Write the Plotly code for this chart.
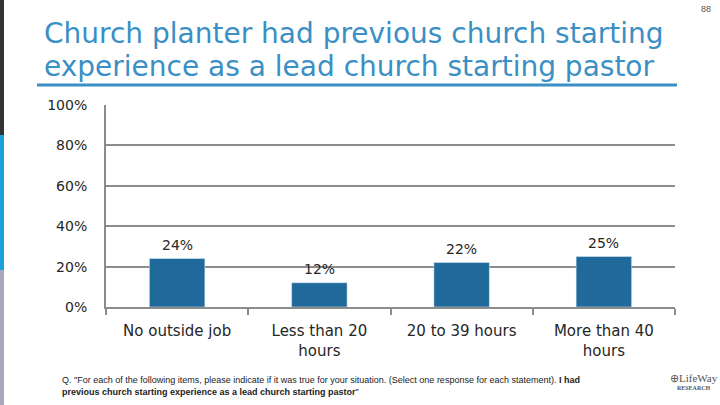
import plotly.graph_objects as go

categories = ["No outside job", "Less than 20<br>hours", "20 to 39 hours", "More than 40<br>hours"]
values = [24, 12, 22, 25]
value_labels = ["24%", "12%", "22%", "25%"]
y_ticks = [0, 20, 40, 60, 80, 100]

title_lines = ["Church planter had previous church starting",
               "experience as a lead church starting pastor"]
footnote = ('Q. "For each of the following items, please indicate if it was true for your situation. '
            '(Select one response for each statement). <b>I had</b><br><b>previous church starting '
            'experience as a lead church starting pastor</b>"')

BAR = "#1F6A9A"
TITLE = "#3A8FC4"
GRID = "#8C8C8C"
TXT = "#262626"
FONT = "DejaVu Sans"

W, H = 720, 405
L, R, T, B = 106, 45, 105, 98
PW, PH = W - L - R, H - T - B


def px(x):
    return (x - L) / PW


def py(y):
    return (H - B - y) / PH


fig = go.Figure()
fig.add_trace(go.Bar(
    x=categories, y=values, marker_color=BAR, width=0.39,
    hoverinfo="skip",
))

for c, v, t in zip(categories, values, value_labels):
    fig.add_annotation(x=c, y=v, text=t, showarrow=False, yanchor="bottom",
                       yshift=4, font=dict(family=FONT, size=14, color=TXT))

fig.update_layout(
    width=W, height=H,
    margin=dict(l=L, r=R, t=T, b=B),
    paper_bgcolor="white", plot_bgcolor="white",
    showlegend=False,
    font=dict(family=FONT, color=TXT),
)
fig.update_yaxes(
    range=[0, 100], tickvals=y_ticks, ticktext=[f"{v}%" for v in y_ticks],
    showgrid=True, gridcolor=GRID, gridwidth=2,
    showline=True, linecolor=GRID, linewidth=2,
    ticks="", tickfont=dict(family=FONT, size=14, color=TXT),
    ticklabelstandoff=14, zeroline=False, fixedrange=True, automargin=False,
)
fig.update_xaxes(
    showline=True, linecolor=GRID, linewidth=2,
    tickson="boundaries", ticks="outside", ticklen=6, tickcolor=GRID, tickwidth=2,
    showgrid=False, tickfont=dict(family=FONT, size=15, color=TXT),
    ticklabelstandoff=9, automargin=False, fixedrange=True,
)

# Title (two lines)
for line, yc in zip(title_lines, [34, 66]):
    fig.add_annotation(xref="paper", yref="paper", x=px(42), y=py(yc), xanchor="left", yanchor="middle",
                       text=line, showarrow=False, align="left",
                       font=dict(family=FONT, size=28, color=TITLE))
# underline
fig.add_shape(type="line", xref="paper", yref="paper", x0=px(37), x1=px(677), y0=py(85), y1=py(85),
              line=dict(color=TITLE, width=3))
# left side bar segments
for y0, y1, col in [(0, 135, "#333333"), (135, 270, "#1BA1D8"), (270, 405, "#A9A9BC")]:
    fig.add_shape(type="rect", xref="paper", yref="paper", x0=px(0), x1=px(4), y0=py(y1), y1=py(y0),
                  fillcolor=col, line_width=0, layer="above")
# page number
fig.add_annotation(xref="paper", yref="paper", x=px(706), y=py(9), text="88", showarrow=False,
                   font=dict(family="Liberation Sans", size=9, color="#555555"),
                   xanchor="center", yanchor="middle")
# footnote
fig.add_annotation(xref="paper", yref="paper", x=px(60), y=py(373), xanchor="left", yanchor="top",
                   text=footnote, showarrow=False, align="left",
                   font=dict(family="Liberation Sans", size=9, color="#222222"))
# logo
fig.add_annotation(xref="paper", yref="paper", x=px(694), y=py(370), xanchor="center", yanchor="top",
                   text="<span style='font-size:11px'>⊕LifeWay</span><br><b>RESEARCH</b>",
                   showarrow=False, align="center",
                   font=dict(family="Liberation Serif", size=6, color="#555555"))

fig.write_html("out.html", config={"displayModeBar": False},
               post_script="document.body.style.margin='0';document.body.style.overflow='hidden';")
